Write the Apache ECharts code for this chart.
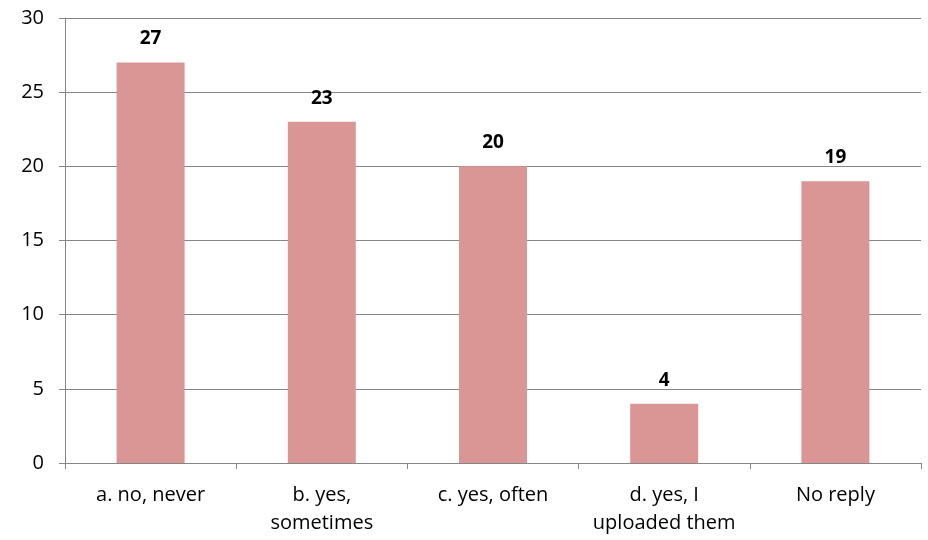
<!DOCTYPE html>
<html><head><meta charset="utf-8">
<script src="https://cdn.jsdelivr.net/npm/echarts@6/dist/echarts.min.js"></script>
<style>html,body{margin:0;padding:0;background:#fff}#c{width:928px;height:540px}</style>
</head><body><div id="c"></div>
<script>
const categories = ['a. no, never', 'b. yes,\nsometimes', 'c. yes, often', 'd. yes, I\nuploaded them', 'No reply'];
const values = [27, 23, 20, 4, 19];
const yTicks = [0, 5, 10, 15, 20, 25, 30];

const FONT = '"Open Sans", "Noto Sans", sans-serif';
const chart = echarts.init(document.getElementById('c'));
chart.setOption({
  animation: false,
  grid: { left: 65, right: 7, top: 18, bottom: 77, containLabel: false },
  xAxis: {
    type: 'category', data: categories,
    axisLine: { lineStyle: { color: '#868686', width: 1 } },
    axisTick: { show: true, length: 6, alignWithLabel: false, lineStyle: { color: '#868686' } },
    axisLabel: { color: '#000', fontFamily: FONT, fontSize: 20, margin: 18, lineHeight: 28, interval: 0 }
  },
  yAxis: {
    type: 'value', min: yTicks[0], max: yTicks[yTicks.length - 1], interval: 5,
    axisLine: { show: true, lineStyle: { color: '#868686' } },
    axisTick: { show: true, length: 6, lineStyle: { color: '#868686' } },
    splitLine: { lineStyle: { color: '#868686', width: 1 } },
    axisLabel: { color: '#000', fontFamily: FONT, fontSize: 20, margin: 21 }
  },
  series: [{
    type: 'bar', data: values, barWidth: 68,
    itemStyle: { color: '#D99694' },
    label: { show: true, position: 'top', distance: 14, color: '#000', fontWeight: 'bold', fontSize: 19, fontFamily: FONT }
  }]
});
</script></body></html>
